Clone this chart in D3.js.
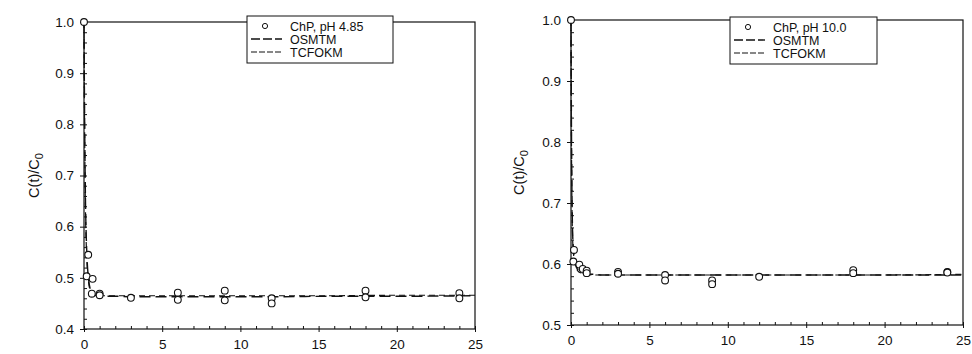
<!DOCTYPE html>
<html>
<head>
<meta charset="utf-8">
<script src="https://cdn.jsdelivr.net/npm/d3@7"></script>
<style>
  body { margin: 0; background: #fff; }
  svg { display: block; font-family: "Liberation Sans", Arial, sans-serif; }
  .tick text { font-size: 13.5px; fill: #111; }
  .tick line { stroke: #111; }
</style>
</head>
<body>
<svg id="chart" width="972" height="354"></svg>
<script>
// Observed data, pH 4.85 (time in h, C(t)/C0)
const obsTimeA = [0, 0.27, 0.17, 0.55, 0.5, 1, 1, 3, 6, 6, 9, 9, 12, 12, 18, 18, 24, 24];
const obsValA  = [1.0, 0.545, 0.503, 0.498, 0.469, 0.469, 0.466, 0.461, 0.471, 0.457, 0.475, 0.456, 0.46, 0.45, 0.475, 0.462, 0.47, 0.46];

// Observed data, pH 10.0
const obsTimeB = [0, 0.19, 0.15, 0.53, 0.75, 1, 1, 3, 3, 6, 6, 9, 9, 12, 18, 18, 24, 24];
const obsValB  = [1.0, 0.623, 0.604, 0.599, 0.592, 0.589, 0.585, 0.587, 0.584, 0.582, 0.573, 0.573, 0.567, 0.579, 0.59, 0.585, 0.587, 0.586];

// Model curves
const modelTime = [0, 0.03, 0.06, 0.1, 0.15, 0.2, 0.3, 0.4, 0.5, 0.7, 1, 1.5, 2, 3, 5, 8, 12, 16, 20, 25];
const osmtmA  = [1.0, 0.85, 0.74, 0.64, 0.575, 0.535, 0.495, 0.478, 0.471, 0.466, 0.465, 0.464, 0.464, 0.463, 0.463, 0.463, 0.463, 0.464, 0.464, 0.465];
const tcfokmA = [1.0, 0.83, 0.72, 0.62, 0.56, 0.525, 0.49, 0.475, 0.469, 0.466, 0.465, 0.465, 0.465, 0.465, 0.465, 0.465, 0.465, 0.465, 0.466, 0.466];
const osmtmB  = [1.0, 0.82, 0.72, 0.655, 0.625, 0.61, 0.598, 0.592, 0.589, 0.586, 0.584, 0.583, 0.582, 0.582, 0.582, 0.582, 0.582, 0.582, 0.582, 0.582];
const tcfokmB = [1.0, 0.80, 0.70, 0.645, 0.62, 0.607, 0.596, 0.59, 0.587, 0.585, 0.583, 0.582, 0.582, 0.582, 0.582, 0.582, 0.582, 0.582, 0.582, 0.583];

const xTicks = [0, 5, 10, 15, 20, 25];
const yTicksA = [0.4, 0.5, 0.6, 0.7, 0.8, 0.9, 1.0];
const yTicksB = [0.5, 0.6, 0.7, 0.8, 0.9, 1.0];
const legendA = ["ChP, pH 4.85", "OSMTM", "TCFOKM"];
const legendB = ["ChP, pH 10.0", "OSMTM", "TCFOKM"];

const svg = d3.select("#chart");

function drawPanel({ left, right, top, bottom, yDomain, yTicks, obsT, obsV, osmtm, tcfokm, legend, legendBox, titleX }) {
  const x = d3.scaleLinear().domain([0, 25]).range([left, right]);
  const y = d3.scaleLinear().domain(yDomain).range([bottom, top]);
  const g = svg.append("g");

  // frame
  g.append("rect")
    .attr("x", left).attr("y", top)
    .attr("width", right - left).attr("height", bottom - top)
    .attr("fill", "none").attr("stroke", "#111").attr("stroke-width", 1.2);

  // minor ticks inside
  const xMinor = d3.range(0, 25.01, 1);
  g.append("g")
    .attr("transform", `translate(0,${bottom})`)
    .call(d3.axisTop(x).tickValues(xMinor).tickSize(3).tickFormat(""))
    .call(a => a.select(".domain").remove());
  const yMinor = d3.range(yDomain[0], yDomain[1] + 0.001, 0.02);
  g.append("g")
    .attr("transform", `translate(${left},0)`)
    .call(d3.axisRight(y).tickValues(yMinor).tickSize(3).tickFormat(""))
    .call(a => a.select(".domain").remove());

  // major axes
  g.append("g")
    .attr("transform", `translate(0,${bottom})`)
    .call(d3.axisBottom(x).tickValues(xTicks).tickSize(3).tickPadding(7).tickFormat(d3.format("d")))
    .call(a => a.select(".domain").remove());
  g.append("g")
    .attr("transform", `translate(${left},0)`)
    .call(d3.axisLeft(y).tickValues(yTicks).tickSize(4).tickPadding(6).tickFormat(d3.format(".1f")))
    .call(a => a.select(".domain").remove());

  // y title
  const t = g.append("text")
    .attr("transform", `translate(${titleX},${(top + bottom) / 2}) rotate(-90)`)
    .attr("text-anchor", "middle")
    .attr("font-size", "14.5px")
    .attr("fill", "#111");
  t.append("tspan").text("C(t)/C");
  t.append("tspan").attr("dy", 4).attr("font-size", "11px").text("0");

  const line = d3.line()
    .x((d, i) => x(modelTime[i]))
    .y(d => y(d))
    .curve(d3.curveMonotoneX);

  g.append("path").datum(osmtm)
    .attr("d", line).attr("fill", "none")
    .attr("stroke", "#111").attr("stroke-width", 1.4)
    .attr("stroke-dasharray", "11,5");
  g.append("path").datum(tcfokm)
    .attr("d", line).attr("fill", "none")
    .attr("stroke", "#111").attr("stroke-width", 1.2)
    .attr("stroke-dasharray", "6,4");

  g.selectAll(".obs")
    .data(obsT.map((d, i) => [d, obsV[i]]))
    .enter().append("circle")
    .attr("class", "obs")
    .attr("cx", d => x(d[0]))
    .attr("cy", d => y(d[1]))
    .attr("r", 3.4)
    .attr("fill", "#fff")
    .attr("stroke", "#111")
    .attr("stroke-width", 1.1);

  // legend
  const lg = g.append("g");
  lg.append("rect")
    .attr("x", legendBox.x).attr("y", legendBox.y)
    .attr("width", legendBox.w).attr("height", legendBox.h)
    .attr("fill", "#fff").attr("stroke", "#111").attr("stroke-width", 1);
  const rowY = [legendBox.y + 10, legendBox.y + 23, legendBox.y + 36];
  lg.append("circle")
    .attr("cx", legendBox.x + 18).attr("cy", rowY[0])
    .attr("r", 2.6).attr("fill", "#fff").attr("stroke", "#111");
  lg.append("line")
    .attr("x1", legendBox.x + 4).attr("x2", legendBox.x + 35)
    .attr("y1", rowY[1]).attr("y2", rowY[1])
    .attr("stroke", "#111").attr("stroke-width", 1.4).attr("stroke-dasharray", "9,3");
  lg.append("line")
    .attr("x1", legendBox.x + 4).attr("x2", legendBox.x + 35)
    .attr("y1", rowY[2]).attr("y2", rowY[2])
    .attr("stroke", "#111").attr("stroke-width", 1.2).attr("stroke-dasharray", "6,2");
  lg.selectAll(".lt")
    .data(legend)
    .enter().append("text")
    .attr("x", legendBox.x + 43)
    .attr("y", (d, i) => rowY[i] + 4.5)
    .attr("font-size", "12.5px")
    .attr("fill", "#111")
    .text(d => d);
}

drawPanel({
  left: 84, right: 475, top: 22, bottom: 329,
  yDomain: [0.4, 1.0], yTicks: yTicksA,
  obsT: obsTimeA, obsV: obsValA, osmtm: osmtmA, tcfokm: tcfokmA,
  legend: legendA, legendBox: { x: 247, y: 16, w: 146, h: 47 }, titleX: 39
});

drawPanel({
  left: 571, right: 963, top: 20, bottom: 325,
  yDomain: [0.5, 1.0], yTicks: yTicksB,
  obsT: obsTimeB, obsV: obsValB, osmtm: osmtmB, tcfokm: tcfokmB,
  legend: legendB, legendBox: { x: 730, y: 17, w: 147, h: 47 }, titleX: 524
});
</script>
</body>
</html>
